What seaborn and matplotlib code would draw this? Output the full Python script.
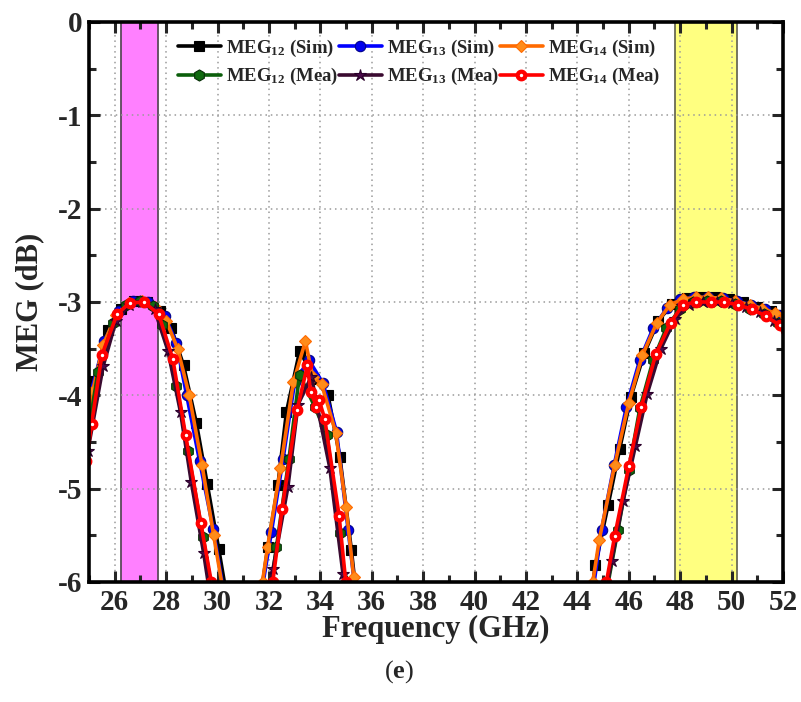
import matplotlib
matplotlib.use("Agg")
import matplotlib.pyplot as plt
from matplotlib.ticker import MultipleLocator
import seaborn as sns
import pandas as pd

# ---- MEG data (GHz, dB); points below -6 dB fall outside the visible window ----
f_sim12 = [24.9, 25.2, 25.75, 26.25, 26.75, 27.25, 27.75, 28.2, 28.68, 29.18, 29.6, 30.05, 30.45,
           31.55, 31.96, 32.35, 32.68, 33.2, 33.75, 34.3, 34.76, 35.21, 35.5,
           44.4, 44.7, 45.2, 45.65, 46.08, 46.6, 47.15, 47.7, 48.25, 48.8, 49.35, 49.9, 50.45,
           51.0, 51.55, 52.1]
meg_sim12 = [-4.2, -3.85, -3.3, -3.07, -2.99, -3.0, -3.1, -3.28, -3.68, -4.3, -4.95, -5.65, -6.3,
             -6.4, -5.62, -4.96, -4.18, -3.52, -3.82, -4.0, -4.66, -5.66, -6.4,
             -6.4, -5.82, -5.17, -4.57, -4.02, -3.55, -3.2, -3.02, -2.96, -2.95, -2.95, -2.97, -3.0,
             -3.05, -3.1, -3.17]

f_sim13 = [24.7, 25.05, 25.6, 26.15, 26.7, 27.3, 27.95, 28.4, 28.8, 29.3, 29.83, 30.3,
           31.6, 32.1, 32.55, 33.0, 33.55, 34.1, 34.63, 35.08, 35.45,
           44.5, 44.94, 45.43, 45.91, 46.43, 46.95, 47.5, 48.0, 48.55, 49.1, 49.65, 50.2, 50.75,
           51.3, 51.85, 52.2]
meg_sim13 = [-4.5, -4.0, -3.42, -3.1, -2.99, -3.0, -3.15, -3.44, -4.0, -4.7, -5.43, -6.2,
             -6.3, -5.46, -4.68, -3.86, -3.62, -3.87, -4.39, -5.44, -6.3,
             -6.3, -5.44, -4.75, -4.12, -3.62, -3.28, -3.06, -2.97, -2.95, -2.95, -2.96, -2.99, -3.03,
             -3.08, -3.14, -3.17]

f_sim14 = [24.8, 25.15, 25.55, 26.05, 26.55, 27.05, 27.55, 28.0, 28.45, 28.9, 29.4, 29.85, 30.25, 30.6,
           31.4, 31.75, 31.95, 32.45, 32.95, 33.42, 33.7, 34.05, 34.6, 35.0, 35.3, 35.6,
           44.3, 44.6, 44.85, 45.45, 46.0, 46.53, 47.08, 47.6, 48.1, 48.6, 49.1, 49.6, 50.15,
           50.7, 51.2, 51.7, 52.1]
meg_sim14 = [-4.4, -3.95, -3.46, -3.14, -3.01, -2.99, -3.05, -3.2, -3.5, -4.0, -4.75, -5.5, -6.15, -6.7,
             -6.6, -6.0, -5.62, -4.78, -3.86, -3.42, -3.8, -3.88, -4.4, -5.2, -5.95, -6.6,
             -6.6, -6.0, -5.55, -4.75, -4.08, -3.57, -3.23, -3.03, -2.97, -2.95, -2.95, -2.96, -2.99,
             -3.03, -3.07, -3.12, -3.17]

f_mea12 = [24.85, 25.35, 25.93, 26.45, 27.0, 27.5, 27.85, 28.4, 28.85, 29.44, 29.85,
           31.9, 32.29, 32.78, 33.19, 33.78, 34.26, 34.75, 35.1,
           45.0, 45.58, 46.0, 46.43, 46.95, 47.46, 48.0, 48.5, 49.05, 49.6, 50.15, 50.7,
           51.25, 51.8, 52.2]
meg_mea12 = [-4.6, -3.75, -3.23, -3.03, -2.99, -3.04, -3.25, -3.9, -4.6, -5.52, -6.2,
             -6.4, -5.63, -4.68, -3.78, -4.12, -4.43, -5.48, -6.3,
             -6.3, -5.44, -4.8, -4.14, -3.62, -3.28, -3.07, -3.0, -2.99, -2.99, -3.02, -3.07,
             -3.13, -3.22, -3.28]

f_mea13 = [24.95, 25.55, 26.05, 26.55, 27.05, 27.55, 28.07, 28.56, 28.98, 29.46, 29.8,
           31.8, 32.16, 32.74, 33.13, 33.65, 34.37, 34.88, 35.1,
           44.9, 45.33, 45.78, 46.26, 46.71, 47.25, 47.8, 48.35, 48.9, 49.45, 50.0, 50.55,
           51.1, 51.65, 52.2]
meg_mea13 = [-4.6, -3.69, -3.2, -3.03, -3.0, -3.08, -3.52, -4.18, -4.93, -5.69, -6.3,
             -6.5, -5.86, -4.98, -4.1, -3.8, -4.78, -5.91, -6.4,
             -6.4, -5.78, -5.13, -4.54, -3.99, -3.5, -3.18, -3.03, -3.0, -3.0, -3.01, -3.05,
             -3.11, -3.2, -3.28]

f_mea14 = [24.9, 25.1, 25.5, 26.09, 26.58, 27.13, 27.71, 28.26, 28.76, 29.35, 29.76, 30.0,
           31.85, 32.15, 32.51, 33.09, 33.5, 33.62, 33.85, 33.95, 34.17, 34.73, 34.99, 35.2,
           44.8, 45.13, 45.45, 46.0, 46.49, 47.05, 47.63, 48.11, 48.63, 49.18, 49.71, 50.25,
           50.8, 51.33, 51.87, 52.1]
meg_mea14 = [-4.7, -4.31, -3.57, -3.13, -3.01, -3.0, -3.13, -3.61, -4.43, -5.37, -6.0, -6.5,
             -6.6, -6.0, -5.22, -4.16, -3.68, -3.96, -4.12, -4.05, -4.25, -5.29, -6.0, -6.6,
             -6.6, -6.0, -5.51, -4.76, -4.12, -3.56, -3.22, -3.03, -3.0, -3.0, -3.0, -3.03,
             -3.08, -3.15, -3.25, -3.3]

# highlighted operating bands (GHz)
band_low = (26.25, 27.7)
band_high = (47.8, 50.2)

x_ticks = list(range(26, 53, 2))
y_ticks = [0, -1, -2, -3, -4, -5, -6]

# ---- style ----
sns.set_style("ticks")
plt.rcParams["font.family"] = ["Liberation Serif", "DejaVu Serif"]
plt.rcParams["font.weight"] = "bold"
plt.rcParams["mathtext.fontset"] = "custom"
plt.rcParams["mathtext.rm"] = "Liberation Serif:bold"
plt.rcParams["mathtext.it"] = "Liberation Serif:italic:bold"
plt.rcParams["mathtext.bf"] = "Liberation Serif:bold"
plt.rcParams["axes.unicode_minus"] = False

fig = plt.figure(figsize=(8.01, 7.02), dpi=100)
ax = fig.add_axes([89 / 801, 1 - 582 / 702, (783 - 89) / 801, (582 - 22) / 702])

ax.axvspan(*band_low, ymin=0, ymax=1, facecolor="#FF80FF", edgecolor="#5A4A5A",
           lw=1.3, zorder=0.3)
ax.axvspan(*band_high, ymin=0, ymax=1, facecolor="#FFFF80", edgecolor="#6A6A55",
           lw=1.3, zorder=0.3)

series = [
    ("sim12", f_sim12, meg_sim12, dict(color="#000000", marker="s", markersize=6.5,
                                      markerfacecolor="#000000", markeredgecolor="#000000"),
     r"MEG$_{12}$ (Sim)"),
    ("sim13", f_sim13, meg_sim13, dict(color="#0000FF", marker="o", markersize=7.5,
                                      markerfacecolor="#0000EE", markeredgecolor="#00008B"),
     r"MEG$_{13}$ (Sim)"),
    ("sim14", f_sim14, meg_sim14, dict(color="#FF6A00", marker="D", markersize=6.5,
                                      markerfacecolor="#FF8C1A", markeredgecolor="#FF6A00"),
     r"MEG$_{14}$ (Sim)"),
    ("mea12", f_mea12, meg_mea12, dict(color="#0B5E0B", marker="h", markersize=8,
                                      markerfacecolor="#0F6A0F", markeredgecolor="#062E06"),
     r"MEG$_{12}$ (Mea)"),
    ("mea13", f_mea13, meg_mea13, dict(color="#3A0A30", marker="*", markersize=9,
                                      markerfacecolor="#4A0A4A", markeredgecolor="#2A002A"),
     r"MEG$_{13}$ (Mea)"),
    ("mea14", f_mea14, meg_mea14, dict(color="#FF0000", marker="o", markersize=5.5,
                                      markerfacecolor="#FFFFFF", markeredgecolor="#FF0000"),
     r"MEG$_{14}$ (Mea)"),
]

handles = {}
for key, fx, fy, style, label in series:
    df = pd.DataFrame({"freq": fx, "meg": fy})
    ew = 3.0 if key == "mea14" else 0.8
    sns.lineplot(data=df, x="freq", y="meg", ax=ax, sort=False, estimator=None,
                 linewidth=2.6, markeredgewidth=ew, label=label, legend=False,
                 zorder=3, **style)
    handles[key] = ax.lines[-1]

ax.set_xlim(25, 52)
ax.set_ylim(-6, 0)
ax.set_xticks(x_ticks)
ax.set_yticks(y_ticks)
ax.xaxis.set_minor_locator(MultipleLocator(1))
ax.yaxis.set_minor_locator(MultipleLocator(0.5))
ax.tick_params(which="both", direction="in", top=True, right=True, width=2.2,
               labelsize=21, pad=5)
ax.tick_params(which="major", length=8)
ax.tick_params(which="minor", length=5)
for lab in ax.get_xticklabels() + ax.get_yticklabels():
    lab.set_fontweight("bold")
for sp in ax.spines.values():
    sp.set_linewidth(2.6)
    sp.set_color("black")
    sp.set_zorder(5)

ax.grid(True, which="major", linestyle=(0, (1, 2.5)), color="#9A9A9A", linewidth=1.1)
ax.set_axisbelow(True)

ax.set_xlabel("Frequency (GHz)", fontsize=22, fontweight="bold")
ax.set_ylabel("MEG (dB)", fontsize=22, fontweight="bold")
ax.xaxis.set_label_coords(0.5, -0.058)
ax.yaxis.set_label_coords(-0.064, 0.5)

order = ["sim12", "mea12", "sim13", "mea13", "sim14", "mea14"]
labels = {k: lab for k, _, _, _, lab in series}
ax.legend([handles[k] for k in order], [labels[k] for k in order], ncol=3,
          loc="upper left", bbox_to_anchor=(0.128, 0.972), frameon=False,
          prop={"family": "Liberation Serif", "weight": "bold", "size": 13.5},
          handlelength=2.3, handletextpad=0.25, columnspacing=0.05,
          labelspacing=0.4, borderpad=0, borderaxespad=0, numpoints=1)

fig.text(399 / 801, 1 - 672 / 702, r"($\mathbf{e}$)", fontsize=19, fontweight="normal",
         ha="center", va="center")

fig.savefig("out.png", dpi=100, facecolor="white")
